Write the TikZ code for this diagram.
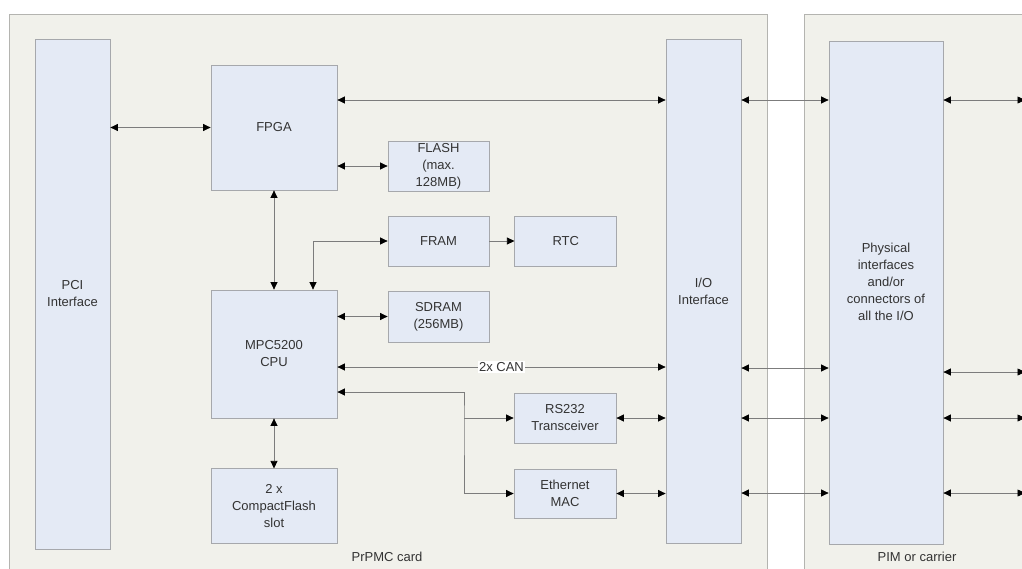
\documentclass[tikz,border=0pt]{standalone}
\usepackage{fontspec}
\setmainfont{Liberation Sans}
\usetikzlibrary{arrows.meta,positioning}
\definecolor{cardBg}{HTML}{F1F1EB}
\definecolor{cardLine}{HTML}{B4B4B0}
\definecolor{boxFill}{HTML}{E4EAF5}
\definecolor{boxLine}{HTML}{A6A8AC}
\definecolor{wireGrey}{HTML}{7C7C7C}
\definecolor{txtGrey}{HTML}{333333}

\begin{document}
\begin{tikzpicture}[x=1pt, y=-1pt, font=\fontsize{13}{17}\selectfont, text=txtGrey,
  blk/.style={draw=boxLine, fill=boxFill, align=center, inner sep=0pt, line width=0.8pt},
  ar/.style={{Triangle[length=7.5pt,width=7pt,black]}-{Triangle[length=7.5pt,width=7pt,black]}, draw=wireGrey, line width=0.7pt},
  ra/.style={-{Triangle[length=7.5pt,width=7pt,black]}, draw=wireGrey, line width=0.7pt}]
\useasboundingbox (0,0) rectangle (1022,568);
\clip (0,0) rectangle (1022,568);
% the two cards
\filldraw[fill=cardBg, draw=cardLine, line width=0.8pt] (9,14) rectangle (767,590);
\filldraw[fill=cardBg, draw=cardLine, line width=0.8pt] (804,14) rectangle (1040,590);
\node (prpmc) at (387,557) {PrPMC card};
\node (pim) at (917,557) {PIM or carrier};
% blocks
\node[blk, minimum width=75pt, minimum height=510pt] (pci) at (72.5,294) {PCI\\Interface};
\node[blk, minimum width=126pt, minimum height=125pt] (fpga) at (274,127.5) {FPGA};
\node[blk, minimum width=101pt, minimum height=50pt] (flash) at (438.5,166) {FLASH\\(max.\\128MB)};
\node[blk, minimum width=101pt, minimum height=50pt] (fram) at (438.5,241) {FRAM};
\node[blk, minimum width=102pt, minimum height=50pt, right=25pt of fram] (rtc) {RTC};
\node[blk, minimum width=101pt, minimum height=51pt] (sdram) at (438.5,316.5) {SDRAM\\(256MB)};
\node[blk, minimum width=126pt, minimum height=128pt] (cpu) at (274,354) {MPC5200\\CPU};
\node[blk, minimum width=126pt, minimum height=75pt, below=50pt of cpu] (cf) {2 x\\CompactFlash\\slot};
\node[blk, minimum width=102pt, minimum height=50pt] (rs232) at (565,418) {RS232\\Transceiver};
\node[blk, minimum width=102pt, minimum height=49pt] (eth) at (565,493.5) {Ethernet\\MAC};
\node[blk, minimum width=75pt, minimum height=504pt] (io) at (703.5,291) {I/O\\Interface};
\node[blk, minimum width=114pt, minimum height=503pt,
  label={[align=center, yshift=11pt, text=txtGrey]center:Physical\\interfaces\\and/or\\connectors of\\all the I/O}] (phys) at (886,292.5) {};
% free ends at the right border
\coordinate (x1) at (1025,100);
\coordinate (x2) at (1025,372);
\coordinate (x3) at (1025,418);
\coordinate (x4) at (1025,493);
\coordinate (br) at (464,418);
% connections
\draw[ar] (pci.east |- fpga.west) -- (fpga.west);
\draw[ar] (fpga.east |- 0,100) -- (io.west |- 0,100);
\draw[ar] (fpga.east |- flash.west) -- (flash.west);
\draw[ar] (fpga.south) -- (cpu.north);
\draw[ar] (cpu.north -| 313,0) |- (fram.west);
\draw[ra] (fram) -- (rtc);
\draw[ar] (cpu.east |- sdram.west) -- (sdram.west);
\draw[ar] (cpu.south) -- (cf.north);
\draw[ar] (cpu.east |- 0,367) -- node[fill=white, inner sep=1pt]{2x CAN} (io.west |- 0,367);
\draw[ar] (cpu.east |- 0,392) -| (br) |- (eth.west);
\draw[ra] (br) -- (rs232.west);
\draw[ar] (rs232.east) -- (io.west |- rs232.east);
\draw[ar] (eth.east) -- (io.west |- eth.east);
\foreach \y in {100,368,418,493}
  \draw[ar] (io.east |- 0,\y) -- (phys.west |- 0,\y);
\foreach \c in {x1,x2,x3,x4}
  \draw[ar] (phys.east |- \c) -- (\c);
\end{tikzpicture}
\end{document}
